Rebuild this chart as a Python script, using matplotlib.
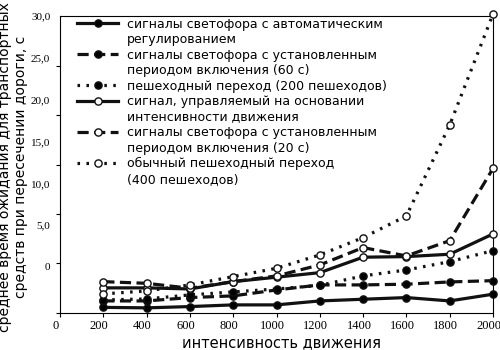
import numpy as np
import matplotlib

matplotlib.use("Agg")
import matplotlib.pyplot as plt
import matplotlib.transforms as mtransforms
from matplotlib.lines import Line2D

# intensity of traffic (x) and average waiting time (y)
X = [200, 400, 600, 800, 1000, 1200, 1400, 1600, 1800, 2000]

auto_reg = [0.56, 0.51, 0.64, 0.81, 0.81, 1.21, 1.38, 1.55, 1.21, 1.89]
fixed_60 = [1.21, 1.21, 1.55, 1.72, 2.32, 2.83, 2.83, 2.90, 3.13, 3.26]
ped_200 = [1.31, 1.41, 1.82, 2.12, 2.42, 2.78, 3.74, 4.34, 5.18, 6.29]
intensity = [2.53, 2.53, 2.42, 3.16, 3.61, 4.07, 5.63, 5.69, 5.93, 7.98]
fixed_20 = [3.16, 2.99, 2.49, 3.16, 3.74, 4.85, 6.60, 5.76, 7.30, 14.6]
ped_400 = [1.92, 2.22, 2.83, 3.67, 4.51, 5.86, 7.61, 9.80, 18.99, 30.2]

LABELS = [
    ["сигналы светофора с автоматическим", "регулированием"],
    ["сигналы светофора с установленным", "периодом включения (60 с)"],
    ["пешеходный переход (200 пешеходов)"],
    ["сигнал, управляемый на основании", "интенсивности движения"],
    ["сигналы светофора с установленным", "периодом включения (20 с)"],
    ["обычный пешеходный переход", "(400 пешеходов)"],
]

XTICKS = [0, 200, 400, 600, 800, 1000, 1200, 1400, 1600, 1800, 2000]
YTICKS = [0, 5, 10, 15, 20, 25, 30]
YTICK_LABELS = ["0", "5,0", "10,0", "15,0", "20,0", "25,0", "30,0"]

SOLID = "-"
DASHED = (0, (3.5, 1.7))
DOTTED = (0, (0.8, 2.0))
styles = [
    (auto_reg, SOLID, "black"),
    (fixed_60, DASHED, "black"),
    (ped_200, DOTTED, "black"),
    (intensity, SOLID, "white"),
    (fixed_20, DASHED, "white"),
    (ped_400, DOTTED, "white"),
]

fig = plt.figure(figsize=(5, 3.5), dpi=100)
ax = fig.add_axes([0.12, 0.106, 0.866, 0.848])

handles = []
for ys, ls, face in styles:
    (ln,) = ax.plot(X, ys, color="#111", lw=2.3, linestyle=ls,
                    marker="o", markersize=5.2, markerfacecolor=face,
                    markeredgecolor="#111", markeredgewidth=1.0,
                    clip_on=False, zorder=3)
    handles.append(ln)

ax.set_xlim(0, 2000)
ax.set_ylim(0, 30)
ax.set_xticks(XTICKS)
ax.set_xticklabels([str(v) for v in XTICKS], family="Liberation Serif", fontsize=9)
ax.tick_params(axis="x", length=3, width=0.8, pad=2)
# labels in the original sit a few pixels left of their ticks
shift = mtransforms.ScaledTranslation(-3 / 72, 0, fig.dpi_scale_trans)
for lab in ax.get_xticklabels():
    lab.set_transform(lab.get_transform() + shift)

# tick marks sit at the scale, labels drift upward as in the original
ax.set_yticks(YTICKS, minor=True)
ax.tick_params(axis="y", which="minor", length=3, width=0.8)
label_pos = np.linspace(4.65, 30, len(YTICKS))
ax.set_yticks(label_pos)
ax.set_yticklabels(YTICK_LABELS, family="Liberation Serif", fontsize=8)
ax.tick_params(axis="y", which="major", length=0, pad=7)

for s in ax.spines.values():
    s.set_linewidth(0.8)

# legend: continuation lines get an empty handle so markers align with first line
leg_h, leg_l = [], []
for h, lines in zip(handles, LABELS):
    for i, txt in enumerate(lines):
        leg_h.append(h if i == 0 else Line2D([], [], color="none"))
        leg_l.append(txt)
ax.legend(leg_h, leg_l, loc="upper left", bbox_to_anchor=(0.039, 0.995),
          frameon=False, fontsize=9, borderpad=0, borderaxespad=0,
          handlelength=3.3, handletextpad=0.7, labelspacing=0.2, numpoints=1)

fig.text(0.026, 0.523,
         "среднее время ожидания для транспортных\nсредств при пересечении дороги, с",
         rotation=90, ha="center", va="center", multialignment="center",
         fontsize=10, linespacing=1.15)
fig.text(0.564, 0.022, "интенсивность движения", ha="center", va="center",
         fontsize=10.5)

fig.savefig("out.png", dpi=100)
